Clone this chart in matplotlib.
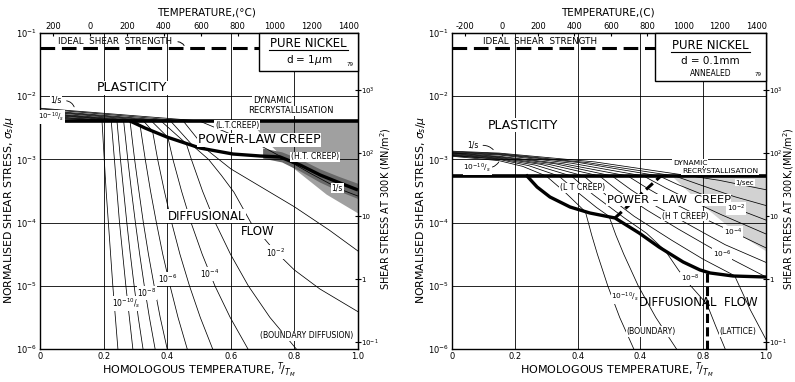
import matplotlib.pyplot as plt
from matplotlib.patches import Rectangle
from matplotlib.ticker import NullLocator

plt.rcParams['font.family'] = ['DejaVu Sans']
plt.rcParams['mathtext.fontset'] = 'dejavusans'

# nickel constants used for the top and right scales
T_MELT = 1726.0      # K
MU_300 = 7.89e4      # shear modulus at 300 K, MN/m^2

# axis ticks
temp_ticks = [-200, 0, 200, 400, 600, 800, 1000, 1200, 1400]
left_temp_labels = ['200', '0', '200', '400', '600', '800', '1000', '1200', '1400']
right_temp_labels = ['-200', '0', '200', '400', '600', '800', '1000', '1200', '1400']
homol_ticks = [0, 0.2, 0.4, 0.6, 0.8, 1.0]
left_homol_labels = ['0', '0.2', '0.4', '0.6', '0.8', '1.0']
right_homol_labels = ['0', '0.2', '0.4', '0.4', '0.8', '1.0']
stress_ticks = [1e-6, 1e-5, 1e-4, 1e-3, 1e-2, 1e-1]
stress_labels = [r'$10^{-6}$', r'$10^{-5}$', r'$10^{-4}$', r'$10^{-3}$', r'$10^{-2}$', r'$10^{-1}$']
mnm2_ticks = [0.1, 1, 10, 100, 1000]
mnm2_labels = [r'$10^{-1}$', '1', '10', r'$10^{2}$', r'$10^{3}$']

# ideal shear strength, log10(sigma_s/mu)
ideal_log = -1.237

# ---- d = 1 um map ----
left_plc_log = -2.39   # plasticity / power-law creep boundary
left_bnd_x = [0.283, 0.330, 0.399, 0.503, 0.607, 0.692, 0.755, 0.818, 0.881, 0.943, 1.0]
left_bnd_log = [-2.392, -2.503, -2.646, -2.820, -2.915, -2.946, -2.962, -3.089, -3.247, -3.373, -3.484]
left_drx_x = [0.66, 0.72, 0.80, 0.90, 1.0]
left_drx_low = [-2.39, -2.75, -3.15, -3.55, -3.85]
left_drx_core_x = [0.70, 0.76, 0.82, 0.88, 0.94, 1.0]
left_drx_core_top = [-2.82, -2.88, -3.00, -3.15, -3.27, -3.38]
left_drx_core_bot = [-2.98, -3.04, -3.19, -3.36, -3.50, -3.62]

# strain-rate contours 1/s ... 1e-11/s : T/TM and log10(sigma_s/mu)
left_rate_x = [
    [0, 0.50, 0.60, 0.70, 0.77, 0.85, 0.943, 1.0],
    [0, 0.45, 0.52, 0.60, 0.70, 0.80, 0.91, 1.0],
    [0, 0.41, 0.48, 0.53, 0.57, 0.61, 0.663, 0.735, 0.80, 0.88, 1.0],
    [0, 0.38, 0.46, 0.476, 0.511, 0.551, 0.599, 0.655, 0.723, 0.806],
    [0, 0.35, 0.402, 0.418, 0.445, 0.475, 0.51, 0.55, 0.598, 0.654],
    [0, 0.325, 0.354, 0.37, 0.391, 0.414, 0.44, 0.47, 0.504, 0.543],
    [0, 0.30, 0.315, 0.331, 0.3475, 0.366, 0.386, 0.409, 0.434, 0.463],
    [0, 0.283, 0.2975, 0.311, 0.325, 0.341, 0.359, 0.378, 0.40],
    [0, 0.263, 0.276, 0.2876, 0.30, 0.3134, 0.328, 0.344, 0.362],
    [0, 0.242, 0.253, 0.263, 0.273, 0.284, 0.296, 0.309, 0.324],
    [0, 0.224, 0.234, 0.242, 0.25, 0.26, 0.27, 0.281, 0.292],
    [0, 0.195, 0.202, 0.208, 0.215, 0.222, 0.229, 0.237, 0.245],
]
left_rate_log = [
    [-2.19, -2.39, -2.60, -2.80, -2.99, -3.22, -3.47, -3.58],
    [-2.20, -2.39, -2.83, -3.15, -3.45, -3.75, -4.12, -4.45],
    [-2.22, -2.39, -2.78, -3.0, -3.25, -3.52, -4.0, -4.43, -4.75, -5.05, -5.41],
    [-2.23, -2.39, -2.75, -3.0, -3.5, -4.0, -4.5, -5.0, -5.5, -6.0],
    [-2.24, -2.39, -2.65, -3.0, -3.5, -4.0, -4.5, -5.0, -5.5, -6.0],
    [-2.26, -2.39, -2.553, -3.0, -3.5, -4.0, -4.5, -5.0, -5.5, -6.0],
    [-2.27, -2.39, -2.47, -3.0, -3.5, -4.0, -4.5, -5.0, -5.5, -6.0],
    [-2.28, -2.39, -3.0, -3.5, -4.0, -4.5, -5.0, -5.5, -6.0],
    [-2.29, -2.39, -3.0, -3.5, -4.0, -4.5, -5.0, -5.5, -6.0],
    [-2.31, -2.39, -3.0, -3.5, -4.0, -4.5, -5.0, -5.5, -6.0],
    [-2.32, -2.39, -3.0, -3.5, -4.0, -4.5, -5.0, -5.5, -6.0],
    [-2.33, -2.39, -3.0, -3.5, -4.0, -4.5, -5.0, -5.5, -6.0],
]

# ---- d = 0.1 mm map ----
right_plc_log = -3.263
right_bnd_x = [0.239, 0.271, 0.312, 0.376, 0.439, 0.519, 0.596, 0.659, 0.736, 0.790, 0.822, 0.895, 1.0]
right_bnd_log = [-3.263, -3.437, -3.595, -3.753, -3.848, -3.927, -4.165, -4.386, -4.623, -4.75, -4.797, -4.845, -4.861]
right_lt_ht_x = [0.519, 0.665]
right_lt_ht_log = [-3.927, -3.263]
right_gb_lat_x = [0.812, 0.812]
right_gb_lat_log = [-4.80, -6.0]
right_drx_x = [0.704, 0.79, 0.895, 1.0]
right_drx_low = [-3.28, -3.69, -4.12, -4.45]

right_rate_x = [
    [0, 0.15, 0.455, 0.76, 0.85, 0.93, 1.0],
    [0, 0.15, 0.43, 0.71, 0.80, 0.90, 1.0],
    [0, 0.15, 0.405, 0.66, 0.72, 0.80, 0.90, 1.0],
    [0, 0.15, 0.38, 0.61, 0.68, 0.76, 0.86, 1.0],
    [0, 0.15, 0.355, 0.56, 0.62, 0.70, 0.80, 0.90, 1.0],
    [0, 0.15, 0.33, 0.51, 0.57, 0.65, 0.75, 0.87, 1.0],
    [0, 0.15, 0.31, 0.47, 0.53, 0.62, 0.72, 0.86, 1.0],
    [0, 0.15, 0.285, 0.42, 0.49, 0.58, 0.70, 0.80, 0.90, 0.95, 1.0],
    [0, 0.15, 0.265, 0.38, 0.45, 0.55, 0.62, 0.68, 0.721, 0.76, 0.812, 0.84, 0.87],
    [0, 0.15, 0.245, 0.34, 0.40, 0.46, 0.50, 0.522, 0.547, 0.593, 0.649, 0.715],
    [0, 0.15, 0.225, 0.30, 0.36, 0.425, 0.445, 0.463, 0.496, 0.534, 0.579],
]
right_rate_log = [
    [-2.87, -2.90, -3.04, -3.263, -3.33, -3.41, -3.48],
    [-2.88, -2.91, -3.05, -3.263, -3.42, -3.59, -3.73],
    [-2.89, -2.92, -3.05, -3.263, -3.40, -3.56, -3.77, -3.96],
    [-2.90, -2.93, -3.06, -3.263, -3.45, -3.65, -3.88, -4.18],
    [-2.90, -2.95, -3.07, -3.263, -3.45, -3.68, -3.93, -4.16, -4.40],
    [-2.91, -2.96, -3.07, -3.263, -3.48, -3.74, -4.02, -4.35, -4.63],
    [-2.92, -2.97, -3.08, -3.263, -3.50, -3.80, -4.10, -4.50, -4.86],
    [-2.93, -2.98, -3.08, -3.263, -3.56, -3.90, -4.28, -4.58, -4.84, -5.38, -5.85],
    [-2.94, -2.99, -3.09, -3.263, -3.56, -3.93, -4.17, -4.45, -4.75, -5.0, -5.29, -5.64, -6.0],
    [-2.94, -3.00, -3.10, -3.263, -3.52, -3.76, -3.90, -4.2, -4.5, -5.0, -5.5, -6.0],
    [-2.95, -3.02, -3.11, -3.263, -3.52, -3.83, -4.2, -4.5, -5.0, -5.5, -6.0],
]


def pw(vals):
    return [10 ** v for v in vals]


def label(ax, x, lg, s, size, box=True, **kw):
    bb = dict(fc='white', ec='none', pad=0.5) if box else None
    ax.text(x, 10 ** lg, s, fontsize=size, ha='center', va='center', zorder=6, bbox=bb, **kw)


def base_panel(ax, temp_labels, homol_labels, title, right_title, ylab_x, rlab_x, title_x, xlab_x):
    ax.set_yscale('log')
    ax.set_xlim(0, 1)
    ax.set_ylim(1e-6, 1e-1)
    for g in [0.2, 0.4, 0.6, 0.8]:
        ax.axvline(g, color='k', lw=0.6, zorder=1)
    for g in [1e-2, 1e-3, 1e-4, 1e-5]:
        ax.axhline(g, color='k', lw=0.6, zorder=1)
    ax.set_xticks(homol_ticks)
    ax.set_xticklabels(homol_labels)
    ax.set_yticks(stress_ticks)
    ax.set_yticklabels(stress_labels)
    ax.yaxis.set_minor_locator(NullLocator())
    ax.tick_params(length=0, labelsize=6, pad=2)
    for sp in ax.spines.values():
        sp.set_linewidth(1.0)

    top = ax.secondary_xaxis('top', functions=(lambda h: h * T_MELT - 273.0,
                                                lambda t: (t + 273.0) / T_MELT))
    top.set_xticks(temp_ticks)
    top.set_xticklabels(temp_labels)
    top.xaxis.set_minor_locator(NullLocator())
    top.tick_params(direction='in', length=2.5, labelsize=6, pad=1.5)

    rgt = ax.secondary_yaxis('right', functions=(lambda s: s * MU_300, lambda t: t / MU_300))
    rgt.set_yticks(mnm2_ticks)
    rgt.set_yticklabels(mnm2_labels)
    rgt.yaxis.set_minor_locator(NullLocator())
    rgt.tick_params(direction='inout', length=4, labelsize=5, pad=0)

    ax.text(title_x, 1.066, title, transform=ax.transAxes, fontsize=7.5, ha='center', va='center')
    ax.text(xlab_x, -0.066, r'HOMOLOGOUS TEMPERATURE, ${}^{T}\!/{}_{T_M}$', transform=ax.transAxes,
            fontsize=8, ha='center', va='center')
    ax.text(ylab_x, 0.44, r'NORMALISED SHEAR STRESS, $\sigma_s/\mu$', transform=ax.transAxes,
            fontsize=7.8, rotation=90, ha='center', va='center')
    ax.text(rlab_x, 0.445, right_title, transform=ax.transAxes,
            fontsize=7, rotation=90, ha='center', va='center')


def draw_rates(ax, xs, logs):
    for x, lg in zip(xs, logs):
        ax.plot(x, pw(lg), color='k', lw=0.55, zorder=2)


def info_box(ax, x0, y0, lines, underline_y):
    ax.add_patch(Rectangle((x0, y0), 1 - x0, 1 - y0, transform=ax.transAxes,
                           fc='white', ec='k', lw=1.0, zorder=7, clip_on=False))
    xc = (x0 + 1) / 2
    for txt, yy, size in lines:
        ax.text(xc, yy, txt, transform=ax.transAxes, fontsize=size,
                ha='center', va='center', zorder=8)
    ax.plot([xc - 0.125, xc + 0.125], [underline_y, underline_y], color='k', lw=0.8,
            transform=ax.transAxes, zorder=8)
    ax.text(0.985, y0 + 0.012, '79', transform=ax.transAxes, fontsize=4,
            ha='right', va='bottom', zorder=8)


fig = plt.figure(figsize=(7.95, 3.82), dpi=100)
ax1 = fig.add_axes([40 / 795, 33 / 382, 318 / 795, 316 / 382])
ax2 = fig.add_axes([452 / 795, 33 / 382, 314 / 795, 316 / 382])

# ---------------- left map: d = 1 um ----------------
base_panel(ax1, left_temp_labels, left_homol_labels, 'TEMPERATURE,(°C)',
           r'SHEAR STRESS AT 300K (MN/m$^2$)', -0.096, 1.086, 0.525, 0.50)

ax1.fill_between(left_drx_x, pw(left_drx_low), 10 ** left_plc_log, color='#a0a0a0',
                 lw=0, zorder=0.5)
ax1.fill_between(left_drx_core_x, pw(left_drx_core_bot), pw(left_drx_core_top),
                 color='#686868', lw=0, zorder=0.6)
draw_rates(ax1, left_rate_x, left_rate_log)
ax1.axhline(10 ** left_plc_log, color='k', lw=2.6, zorder=3)
ax1.plot(left_bnd_x, pw(left_bnd_log), color='k', lw=2.4, zorder=3, solid_capstyle='butt')
ax1.plot([0, 0.69], [10 ** ideal_log] * 2, color='k', lw=2.2, ls=(0, (4.8, 2.2)), zorder=3)

info_box(ax1, 0.69, 0.88, [('PURE NICKEL', 0.967, 8.5), (r'd = 1$\mu$m', 0.915, 7.5)], 0.946)

label(ax1, 0.236, -1.14, 'IDEAL  SHEAR  STRENGTH', 6.3, box=False)
ax1.annotate('', xy=(0.457, 10 ** -1.237), xytext=(0.425, 10 ** -1.14),
             arrowprops=dict(arrowstyle='-', lw=0.7, connectionstyle='arc3,rad=-0.4'))
label(ax1, 0.29, -1.87, 'PLASTICITY', 9)
label(ax1, 0.73, -2.07, 'DYNAMIC', 6)
label(ax1, 0.79, -2.23, 'RECRYSTALLISATION', 6)
label(ax1, 0.62, -2.46, '(L.T.CREEP)', 5.6)
label(ax1, 0.69, -2.69, 'POWER-LAW CREEP', 9)
label(ax1, 0.865, -2.96, '(H.T. CREEP)', 5.6)
label(ax1, 0.935, -3.45, '1/s', 5.5)
label(ax1, 0.525, -3.90, 'DIFFUSIONAL', 8.5)
label(ax1, 0.685, -4.14, 'FLOW', 8.5)
label(ax1, 0.74, -4.47, r'$10^{-2}$', 5.5)
label(ax1, 0.535, -4.81, r'$10^{-4}$', 5.5)
label(ax1, 0.40, -4.89, r'$10^{-6}$', 5.5)
label(ax1, 0.336, -5.11, r'$10^{-8}$', 5.5)
label(ax1, 0.272, -5.28, r'$10^{-10}/_{s}$', 5.5)
label(ax1, 0.84, -5.79, '(BOUNDARY DIFFUSION)', 5.6)
label(ax1, 0.05, -2.06, '1/s', 5.5)
ax1.annotate('', xy=(0.11, 10 ** -2.21), xytext=(0.075, 10 ** -2.07),
             arrowprops=dict(arrowstyle='-', lw=0.6, connectionstyle='arc3,rad=-0.4'))
label(ax1, 0.035, -2.33, r'$10^{-10}/_{s}$', 5.0)

# ---------------- right map: d = 0.1 mm ----------------
base_panel(ax2, right_temp_labels, right_homol_labels, 'TEMPERATURE,(C)',
           r'SHEAR STRESS AT 300K,(MN/m$^2$)', -0.098, 1.073, 0.497, 0.525)

ax2.fill_between(right_drx_x, pw(right_drx_low), 10 ** right_plc_log, color='#d2d2d2',
                 lw=0, zorder=0.5)
draw_rates(ax2, right_rate_x, right_rate_log)
ax2.axhline(10 ** right_plc_log, color='k', lw=2.6, zorder=3)
ax2.plot(right_bnd_x, pw(right_bnd_log), color='k', lw=2.4, zorder=3)
ax2.plot(right_lt_ht_x, pw(right_lt_ht_log), color='k', lw=2.2, ls=(0, (3, 1.6)), zorder=3)
ax2.plot(right_gb_lat_x, pw(right_gb_lat_log), color='k', lw=2.2, ls=(0, (3, 1.4)), zorder=3)
ax2.plot([0, 0.646], [10 ** ideal_log] * 2, color='k', lw=2.2, ls=(0, (4.8, 2.2)), zorder=3)

info_box(ax2, 0.646, 0.848, [('PURE NICKEL', 0.962, 8.5), ('d = 0.1mm', 0.912, 7.5),
                              ('ANNEALED', 0.872, 5.5)], 0.94)

label(ax2, 0.28, -1.14, 'IDEAL  SHEAR  STRENGTH', 6.3, box=False)
label(ax2, 0.226, -2.456, 'PLASTICITY', 9)
label(ax2, 0.758, -3.05, 'DYNAMIC', 5.4)
label(ax2, 0.853, -3.19, 'RECRYSTALLISATION', 5.4)
label(ax2, 0.415, -3.45, '(L T CREEP)', 5.6)
label(ax2, 0.69, -3.64, 'POWER – LAW  CREEP', 8.2)
label(ax2, 0.742, -3.90, '(H T CREEP)', 5.6)
label(ax2, 0.933, -3.37, '1/sec', 5.0)
label(ax2, 0.905, -3.78, r'$10^{-2}$', 5.3)
label(ax2, 0.895, -4.16, r'$10^{-4}$', 5.3)
label(ax2, 0.86, -4.50, r'$10^{-6}$', 5.3)
label(ax2, 0.758, -4.88, r'$10^{-8}$', 5.3)
label(ax2, 0.551, -5.18, r'$10^{-10}/_{s}$', 5.3)
label(ax2, 0.785, -5.27, 'DIFFUSIONAL  FLOW', 8.5, box=False)
label(ax2, 0.634, -5.72, '(BOUNDARY)', 5.6)
label(ax2, 0.91, -5.72, '(LATTICE)', 5.6)
label(ax2, 0.067, -2.77, '1/s', 5.5)
ax2.annotate('', xy=(0.137, 10 ** -2.88), xytext=(0.09, 10 ** -2.78),
             arrowprops=dict(arrowstyle='-', lw=0.6, connectionstyle='arc3,rad=-0.3'))
label(ax2, 0.08, -3.14, r'$10^{-10}/_{s}$', 5.3)
ax2.annotate('', xy=(0.153, 10 ** -3.0), xytext=(0.12, 10 ** -3.13),
             arrowprops=dict(arrowstyle='-', lw=0.6, connectionstyle='arc3,rad=0.3'))

fig.savefig('out.png', dpi=100)
